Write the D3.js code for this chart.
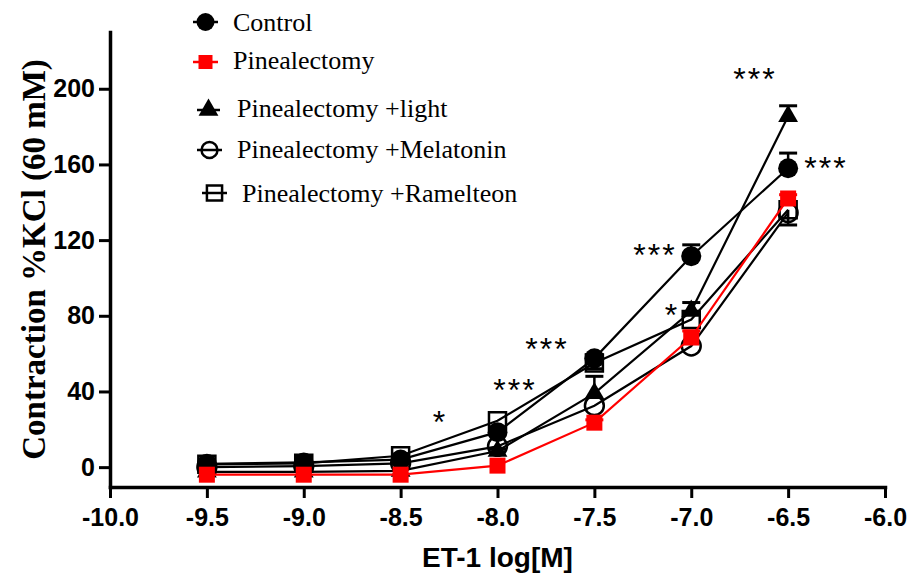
<!DOCTYPE html>
<html>
<head>
<meta charset="utf-8">
<script src="https://cdn.jsdelivr.net/npm/d3@7"></script>
<style>
  body { margin: 0; background: #fff; }
  .tick text { font-family: "Liberation Sans", Arial, sans-serif; font-weight: bold; font-size: 25px; }
</style>
</head>
<body>
<div id="chart"></div>
<script>
// Data
const doses = [-9.5, -9.0, -8.5, -8.0, -7.5, -7.0, -6.5];

const control = [1.8, 2.5, 4, 18.5, 57.5, 111.5, 158];
const controlErr = [0, 0, 0, 1.5, 2, 6, 8];

const pinealectomy = [-4, -4, -4, 0.8, 23.5, 68.5, 142];
const pinealectomyErr = [0, 0, 0, 0, 1.5, 3.5, 2];

const pinxLight = [-2.5, -2.5, -2, 8.5, 39, 82.5, 185.5];
const pinxLightErr = [0, 0, 0, 1, 9, 4.5, 5.5];

const pinxMelatonin = [0, 0.5, 2, 11, 32.5, 64, 134.5];
const pinxMelatoninErr = [0, 0, 0, 0, 0, 0, 0];

const pinxRamelteon = [1.5, 2, 6, 24.5, 55, 78, 136];
const pinxRamelteonErr = [0, 0, 0, 0, -3, 0, -8];

const xTicks = [-10.0, -9.5, -9.0, -8.5, -8.0, -7.5, -7.0, -6.5, -6.0];
const yTicks = [0, 40, 80, 120, 160, 200];

// significance marks: [dose position, value position, label]
const sigX = [-8.297, -7.91, -7.745, -7.187, -7.099, -6.671, -6.305];
const sigY = [27.5, 44.5, 66.2, 116, 84.2, 208.7, 161.6];
const sigText = ["*", "***", "***", "***", "*", "***", "***"];

// Set up dimensions
const margin = {top: 32, right: 24, bottom: 89, left: 110};
const width = 909 - margin.left - margin.right;
const height = 576 - margin.top - margin.bottom;

const svgRoot = d3.select("#chart")
    .append("svg")
    .attr("width", 909)
    .attr("height", 576);

const svg = svgRoot.append("g")
    .attr("transform", `translate(${margin.left},${margin.top})`);

// Scales
const x = d3.scaleLinear().domain([-10, -6]).range([0, 775]);
const y = d3.scaleLinear().domain([-10.5, 230]).range([height, 0]);

// Series definitions (drawing order: bottom to top)
const series = [
    {name: "Pinealectomy +Ramelteon", values: pinxRamelteon, err: pinxRamelteonErr, color: "#000",
     symbol: d3.symbolSquare, size: 290, fill: "none"},
    {name: "Pinealectomy +Melatonin", values: pinxMelatonin, err: pinxMelatoninErr, color: "#000",
     symbol: d3.symbolCircle, size: 280, fill: "none"},
    {name: "Pinealectomy +light", values: pinxLight, err: pinxLightErr, color: "#000",
     symbol: d3.symbolTriangle, size: 170, fill: "#000"},
    {name: "Control", values: control, err: controlErr, color: "#000",
     symbol: d3.symbolCircle, size: 314, fill: "#000"},
    {name: "Pinealectomy", values: pinealectomy, err: pinealectomyErr, color: "#ff0000",
     symbol: d3.symbolSquare, size: 256, fill: "#ff0000"}
];

const line = d3.line()
    .x((d, i) => x(doses[i]))
    .y(d => y(d));

series.forEach(s => {
    const g = svg.append("g");

    g.append("path")
        .datum(s.values)
        .attr("fill", "none")
        .attr("stroke", s.color)
        .attr("stroke-width", 2.2)
        .attr("d", line);

    // error bars (one direction, as in the figure)
    const bars = doses.map((d, i) => ({dose: d, v: s.values[i], e: s.err[i]})).filter(d => d.e !== 0);
    g.selectAll(".eb")
        .data(bars)
        .enter().append("line")
        .attr("x1", d => x(d.dose))
        .attr("x2", d => x(d.dose))
        .attr("y1", d => y(d.v))
        .attr("y2", d => y(d.v + d.e))
        .attr("stroke", s.color)
        .attr("stroke-width", 2.5);
    g.selectAll(".cap")
        .data(bars)
        .enter().append("line")
        .attr("x1", d => x(d.dose) - 9)
        .attr("x2", d => x(d.dose) + 9)
        .attr("y1", d => y(d.v + d.e))
        .attr("y2", d => y(d.v + d.e))
        .attr("stroke", s.color)
        .attr("stroke-width", 3);

    g.selectAll(".pt")
        .data(s.values)
        .enter().append("path")
        .attr("transform", (d, i) => `translate(${x(doses[i])},${y(d)})`)
        .attr("d", d3.symbol().type(s.symbol).size(s.size))
        .attr("fill", s.fill)
        .attr("stroke", s.fill === "none" ? s.color : "none")
        .attr("stroke-width", 2.5);
});

// Significance asterisks
svg.selectAll(".sig")
    .data(sigText)
    .enter().append("text")
    .attr("x", (d, i) => x(sigX[i]))
    .attr("y", (d, i) => y(sigY[i]) + 18)
    .attr("text-anchor", "middle")
    .style("font-family", "'Liberation Sans', Arial, sans-serif")
    .style("font-size", "32px")
    .style("letter-spacing", "2px")
    .text(d => d);

// Add x-axis
const xAxis = svg.append("g")
    .attr("transform", `translate(0,${height})`)
    .call(d3.axisBottom(x).tickValues(xTicks).tickSize(11).tickSizeOuter(0).tickPadding(10)
        .tickFormat(d => d.toFixed(1)));

// Add y-axis
const yAxis = svg.append("g")
    .call(d3.axisLeft(y).tickValues(yTicks).tickSize(11).tickSizeOuter(0).tickPadding(4));

[xAxis, yAxis].forEach(a => {
    a.select(".domain").attr("stroke-width", 3.5).attr("stroke-linecap", "square");
    a.selectAll(".tick line").attr("stroke-width", 3);
    a.selectAll(".tick text").attr("fill", "#000");
});

// Axis titles
svg.append("text")
    .attr("x", 387.5)
    .attr("y", 567 - margin.top)
    .attr("text-anchor", "middle")
    .style("font-family", "'Liberation Sans', Arial, sans-serif")
    .style("font-weight", "bold")
    .style("font-size", "28px")
    .text("ET-1 log[M]");

svgRoot.append("text")
    .attr("transform", "translate(45,259.5) rotate(-90)")
    .attr("text-anchor", "middle")
    .style("font-family", "'Liberation Serif', 'Times New Roman', serif")
    .style("font-weight", "bold")
    .style("font-size", "33px")
    .text("Contraction %KCl (60 mM)");

// Legend
const legendItems = [
    {label: "Control", symbol: d3.symbolCircle, size: 254, fill: "#000", color: "#000", x0: 193, x1: 218, y: 22, tx: 233, ty: 31},
    {label: "Pinealectomy", symbol: d3.symbolSquare, size: 196, fill: "#ff0000", color: "#ff0000", x0: 193, x1: 218, y: 62, tx: 233, ty: 69},
    {label: "Pinealectomy +light", symbol: d3.symbolTriangle, size: 170, fill: "#000", color: "#000", x0: 197, x1: 220, y: 110, tx: 237, ty: 117},
    {label: "Pinealectomy +Melatonin", symbol: d3.symbolCircle, size: 200, fill: "none", color: "#000", x0: 197, x1: 222, y: 150, tx: 237, ty: 157.5},
    {label: "Pinealectomy +Ramelteon", symbol: d3.symbolSquare, size: 230, fill: "none", color: "#000", x0: 202, x1: 227, y: 193, tx: 242, ty: 201.5}
];

const legend = svgRoot.append("g");
legendItems.forEach(d => {
    legend.append("line")
        .attr("x1", d.x0).attr("x2", d.x1)
        .attr("y1", d.y).attr("y2", d.y)
        .attr("stroke", d.color)
        .attr("stroke-width", 2.5);
    legend.append("path")
        .attr("transform", `translate(${(d.x0 + d.x1) / 2},${d.y})`)
        .attr("d", d3.symbol().type(d.symbol).size(d.size))
        .attr("fill", d.fill)
        .attr("stroke", d.fill === "none" ? d.color : "none")
        .attr("stroke-width", 2.5);
    legend.append("text")
        .attr("x", d.tx)
        .attr("y", d.ty)
        .style("font-family", "'Liberation Serif', 'Times New Roman', serif")
        .style("font-size", "26px")
        .text(d.label);
});
</script>
</body>
</html>
